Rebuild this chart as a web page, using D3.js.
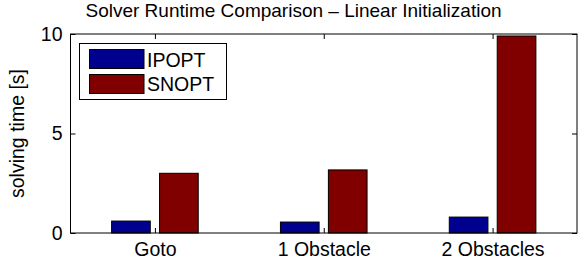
<!DOCTYPE html>
<html><head><meta charset="utf-8">
<script src="https://cdn.jsdelivr.net/npm/d3@7"></script>
<style>body{margin:0;background:#fff}svg{display:block}text{font-family:"Liberation Sans",Arial,sans-serif;fill:#000}</style>
</head><body>
<svg id="c" width="587" height="264"></svg>
<script>
const categories = ["Goto", "1 Obstacle", "2 Obstacles"];
const seriesNames = ["IPOPT", "SNOPT"];
const ipopt = [0.6, 0.55, 0.8];
const snopt = [3.0, 3.17, 9.9];
const yTicks = [0, 5, 10];
const colors = ["#00008F", "#800000"];

const svg = d3.select("#c");
const L = 70.5, R = 577, T = 34, B = 233;
const x = d3.scaleLinear().domain([0.5, 3.5]).range([L, R]);
const y = d3.scaleLinear().domain([0, 10]).range([B, T]);
const fs = 19.5;

const series = [ipopt, snopt];
const barW = 0.229, off = 0.142;
series.forEach((vals, si) => {
  svg.append("g").selectAll("rect").data(vals).join("rect")
    .attr("x", (d, i) => x(i + 1 + (si === 0 ? -off : off)) - (x(barW) - x(0)) / 2)
    .attr("width", x(barW) - x(0))
    .attr("y", d => y(d))
    .attr("height", d => y(0) - y(d))
    .attr("fill", colors[si]).attr("stroke", "#000").attr("stroke-width", 1);
});

// axes box
const g = svg.append("g");
g.append("rect").attr("x", L).attr("y", T).attr("width", R - L).attr("height", B - T)
  .attr("fill", "none").attr("stroke", "#000").attr("stroke-width", 1);

const xb = d3.axisBottom(x).tickValues([1, 2, 3]).tickFormat((d) => categories[d - 1]).tickSizeInner(-5).tickSizeOuter(0).tickPadding(9);
const ax = svg.append("g").attr("transform", `translate(0,${B})`).call(xb);
const xt = d3.axisTop(x).tickValues([1, 2, 3]).tickFormat("").tickSizeInner(-5).tickSizeOuter(0);
const ax2 = svg.append("g").attr("transform", `translate(0,${T})`).call(xt);
const yl = d3.axisLeft(y).tickValues(yTicks).tickFormat(d3.format("d")).tickSizeInner(-5).tickSizeOuter(0).tickPadding(8);
const ay = svg.append("g").attr("transform", `translate(${L},0)`).call(yl);
const yr = d3.axisRight(y).tickValues(yTicks).tickFormat("").tickSizeInner(-5).tickSizeOuter(0);
const ay2 = svg.append("g").attr("transform", `translate(${R},0)`).call(yr);
[ax, ax2, ay, ay2].forEach(a => {
  a.select(".domain").remove();
  a.selectAll("line").attr("stroke", "#000");
  a.selectAll("text").style("font-size", fs + "px").attr("font-family", "Liberation Sans, Arial, sans-serif").attr("fill", "#000");
});
ax.selectAll("text").attr("dy", "0.71em");

svg.append("text").attr("x", 293.5).attr("y", 17).attr("text-anchor", "middle")
  .style("font-size", "19px").text("Solver Runtime Comparison \u2013 Linear Initialization");
svg.append("text").attr("transform", `translate(24,${(T + B) / 2}) rotate(-90)`).attr("text-anchor", "middle")
  .style("font-size", fs + "px").text("solving time [s]");

// legend
const lg = svg.append("g");
lg.append("rect").attr("x", 79.5).attr("y", 43.5).attr("width", 147).attr("height", 56)
  .attr("fill", "#fff").attr("stroke", "#000").attr("stroke-width", 1);
seriesNames.forEach((n, i) => {
  lg.append("rect").attr("x", 89.5).attr("y", 49.5 + i * 25).attr("width", 54.5).attr("height", 19)
    .attr("fill", colors[i]).attr("stroke", "#000");
  lg.append("text").attr("x", 147).attr("y", 66.5 + i * 24.3).style("font-size", fs + "px").text(n);
});
</script>
</body></html>
